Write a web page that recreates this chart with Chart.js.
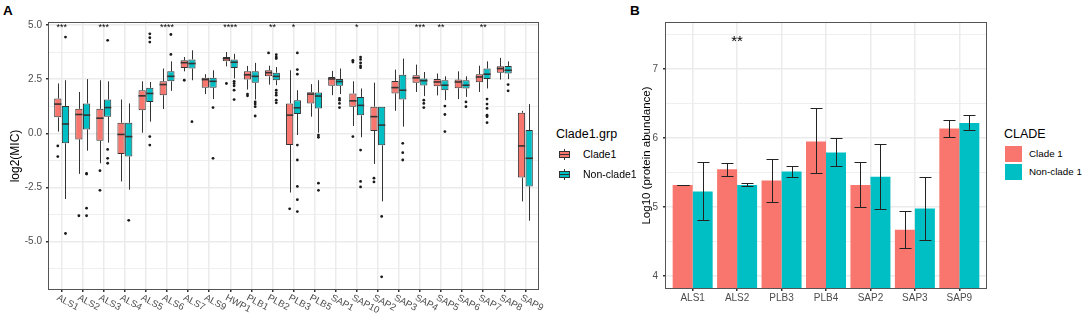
<!DOCTYPE html>
<html>
<head>
<meta charset="utf-8">
<title>MIC and protein abundance by clade</title>
<script src="https://cdn.jsdelivr.net/npm/chart.js@4.4.1/dist/chart.umd.min.js"></script>
<style>
    body { margin: 0; background: #fff; font-family: 'Liberation Sans', Arial, sans-serif; }
    #fig { position: relative; width: 1084px; height: 317px; overflow: hidden; }
    .tag { position: absolute; font-weight: bold; font-size: 13.5px; line-height: 16px; }
    .wrap { position: absolute; top: 0; height: 317px; }
    #wrapA { left: 0; width: 545px; }
    #wrapB { left: 630px; width: 360px; }
    .lg-title { position: absolute; font-size: 12.5px; line-height: 16px; color: #000; white-space: nowrap; }
    .lg-label { position: absolute; font-size: 10.5px; line-height: 17px; color: #000; white-space: nowrap; }
    .lg-label.sm { font-size: 9.8px; }
    .boxkey { position: absolute; width: 17px; height: 17px; }
    .boxkey .wh { position: absolute; left: 8px; top: 3px; width: 1px; height: 11px; background: #333; }
    .boxkey .bx { position: absolute; left: 3px; top: 5px; width: 9px; height: 5px; border: 1px solid #333; }
    .boxkey .md { position: absolute; left: 3px; top: 8px; width: 11px; height: 1px; background: #333; }
    .fillkey { position: absolute; width: 17px; height: 16px; }
</style>
</head>
<body>
<div id="fig">
    <div class="tag" style="left:3px; top:3px;">A</div>
    <div class="tag" style="left:630px; top:3px;">B</div>

    <div class="wrap" id="wrapA"><canvas id="chartA"></canvas></div>
    <div class="wrap" id="wrapB"><canvas id="chartB"></canvas></div>

    <!-- legend panel A -->
    <div class="lg-title" style="left:556px; top:126px;">Clade1.grp</div>
    <div class="boxkey" style="left:556px; top:146px;"><span class="wh"></span><span class="bx" style="background:#F8766D"></span><span class="md"></span></div>
    <div class="lg-label" style="left:583px; top:146px;">Clade1</div>
    <div class="boxkey" style="left:556px; top:166px;"><span class="wh"></span><span class="bx" style="background:#00BFC4"></span><span class="md"></span></div>
    <div class="lg-label" style="left:583px; top:166px;">Non-clade1</div>

    <!-- legend panel B -->
    <div class="lg-title" style="left:1004px; top:126px;">CLADE</div>
    <div class="fillkey" style="left:1005px; top:146px; background:#F8766D;"></div>
    <div class="lg-label sm" style="left:1029px; top:145px;">Clade 1</div>
    <div class="fillkey" style="left:1005px; top:164px; background:#00BFC4;"></div>
    <div class="lg-label sm" style="left:1029px; top:163px;">Non-clade 1</div>
</div>

<script>
// ---- Panel A: log2(MIC) boxplots ----
const categoriesA = ['ALS1', 'ALS2', 'ALS3', 'ALS4', 'ALS5', 'ALS6', 'ALS7', 'ALS9', 'HWP1', 'PLB1', 'PLB2', 'PLB3',
    'PLB5', 'SAP1', 'SAP10', 'SAP2', 'SAP3', 'SAP4', 'SAP5', 'SAP6', 'SAP7', 'SAP8', 'SAP9'];

const clade1Low    = [0.08, -1.87, -1.38, -2.22, 0.03, 1.12, 2.86, 1.81, 3.09, 2.02, 2.25, -2.73, 0.77, 1.76, 0.34, -1.41, 1.04, 1.91, 1.75, 1.58, 1.91, 2.48, -3.14];
const clade1Q1     = [0.74, -0.28, -0.34, -0.95, 1.07, 1.76, 3.02, 2.10, 3.32, 2.48, 2.63, -0.54, 1.38, 2.19, 1.23, 0.11, 1.84, 2.33, 2.17, 2.08, 2.36, 2.80, -2.04];
const clade1Median = [1.35, 0.87, 0.70, -0.05, 1.73, 2.25, 3.26, 2.48, 3.45, 2.70, 2.80, 0.84, 1.81, 2.51, 1.50, 0.77, 2.11, 2.56, 2.37, 2.37, 2.60, 2.99, -0.58];
const clade1Q3     = [1.61, 1.13, 1.13, 0.49, 1.99, 2.40, 3.37, 2.56, 3.52, 2.86, 2.91, 1.38, 1.90, 2.60, 1.84, 1.23, 2.42, 2.68, 2.51, 2.48, 2.73, 3.09, 0.95];
const clade1High   = [2.30, 1.91, 2.45, 1.56, 2.40, 2.99, 3.52, 2.73, 3.75, 3.11, 3.12, 2.91, 2.27, 2.88, 2.40, 2.34, 2.94, 3.17, 2.76, 2.86, 3.12, 3.48, 1.04];
const clade1Outliers = [[-0.58, -1.07], [-3.80], [-1.72, -2.63], [], [], [], [2.45], [], [2.30], [1.81, 1.73], [3.71],
    [-3.48], [], [], [3.37, 3.29, -0.15], [-2.07, -2.24], [], [], [], [], [], [], []];

const nonClade1Low    = [-3.03, -0.80, -0.43, -2.60, 0.54, 1.96, 2.45, 1.58, 2.53, 1.56, 2.22, -0.08, 0.03, 1.81, -0.18, -3.14, 0.31, 1.72, 1.53, 1.68, 2.07, 2.50, -4.03];
const nonClade1Q1     = [-0.46, 0.18, 0.77, -1.07, 1.45, 2.40, 2.99, 2.10, 3.02, 2.33, 2.45, 0.89, 1.15, 2.19, 0.83, -0.55, 1.56, 2.21, 1.99, 2.07, 2.51, 2.76, -2.45];
const nonClade1Median = [0.43, 0.84, 1.19, -0.15, 1.84, 2.63, 3.22, 2.40, 3.28, 2.63, 2.63, 1.18, 1.72, 2.39, 1.29, 0.38, 1.99, 2.43, 2.22, 2.22, 2.73, 2.91, -1.15];
const nonClade1Q3     = [1.26, 1.38, 1.56, 0.49, 2.10, 2.86, 3.41, 2.56, 3.41, 2.86, 2.80, 1.53, 1.88, 2.51, 1.68, 1.23, 2.70, 2.53, 2.45, 2.45, 2.99, 3.11, 0.15];
const nonClade1High   = [2.45, 2.50, 2.40, 1.38, 2.37, 3.32, 3.83, 2.91, 3.67, 3.25, 3.06, 1.99, 2.45, 2.99, 2.07, 1.23, 3.45, 2.83, 2.63, 2.63, 3.32, 3.32, 1.35];
const nonClade1Outliers = [[4.44, -4.62], [-1.85, -1.88, -3.45, -3.80], [4.29, -0.74, -1.15, -1.38], [-4.01],
    [4.59, 4.41, 4.21, -0.15, -0.54], [4.56, 3.64], [0.54], [1.19, -1.15], [2.40, 2.30, 2.19, 1.99, 1.56],
    [1.45, 1.35, 1.23, 0.80], [3.63, 3.52, 3.45, 1.99, 1.87, 1.76, 1.53, 1.41],
    [3.71, 2.94, 2.73, -0.54, -1.23, -2.45, -3.06, -3.61], [-0.08, -0.18, -2.30, -2.63], [1.61, 1.53, 1.38, 1.19],
    [3.52, 3.41, 3.25, 3.11, 3.03, -0.77, -2.22, -2.47], [-3.83, -6.62], [-0.46, -0.89, -1.23], [1.53, 1.38, 1.19],
    [1.26, 0.87, 0.08], [1.45, 1.23], [1.58, 1.35, 1.15, 0.84, 0.77, 0.49], [2.25, 1.96], []];

const starsA = ['***', '', '***', '', '', '****', '', '', '****', '', '**', '*', '', '', '*', '', '', '***', '**', '', '**', '', ''];
const starYA = 4.95;
const yTicksA = [-5, -2.5, 0, 2.5, 5];
const yRangeA = [-7.18, 5.09];

// ---- Panel B: protein abundance bars ----
const categoriesB = ['ALS1', 'ALS2', 'PLB3', 'PLB4', 'SAP2', 'SAP3', 'SAP9'];
const clade1Mean  = [5.32, 5.55, 5.385, 5.95, 5.32, 4.67, 6.14];
const clade1Upper = [5.325, 5.645, 5.70, 6.43, 5.655, 4.945, 6.27];
const clade1Lower = [5.315, 5.45, 5.07, 5.49, 5.00, 4.405, 6.02];
const nonClade1Mean  = [5.225, 5.32, 5.515, 5.79, 5.44, 4.98, 6.22];
const nonClade1Upper = [5.65, 5.355, 5.60, 6.00, 5.92, 5.44, 6.33];
const nonClade1Lower = [4.81, 5.30, 5.43, 5.60, 4.975, 4.525, 6.12];
const starsB = ['', '**', '', '', '', '', ''];
const starYB = 7.46;
const yTicksB = [4, 5, 6, 7];
const yRangeB = [3.826, 7.67];

const RED = '#F8766D';
const CYAN = '#00BFC4';
const GRID = '#EBEBEB';
const TICK_TEXT = '#4D4D4D';

Chart.defaults.font.family = "'Liberation Sans', Arial, sans-serif";
Chart.defaults.animation = false;

// major ticks plus ggplot style minor lines half way between
function withMinor(major, range) {
    const step = major[1] - major[0];
    const out = [];
    for (let v = major[0] - step; v <= range[1] + 1e-9; v += step / 2) {
        if (v >= range[0]) out.push(+v.toFixed(4));
    }
    return out;
}
const isMajor = (v, major) => major.some(m => Math.abs(m - v) < 1e-6);

// panel border drawn over the data, like ggplot theme_bw
const panelBorder = {
    id: 'panelBorder',
    afterDraw(chart) {
        const { left, top, right, bottom } = chart.chartArea;
        const ctx = chart.ctx;
        ctx.save();
        ctx.strokeStyle = '#555';
        ctx.lineWidth = 1;
        ctx.strokeRect(Math.round(left) - 0.5, Math.round(top) - 0.5, Math.round(right - left) + 1, Math.round(bottom - top) + 1);
        ctx.restore();
    }
};

// whiskers, medians, outliers and significance stars for panel A
const boxExtras = {
    id: 'boxExtras',
    afterDatasetsDraw(chart) {
        const ctx = chart.ctx;
        const ys = chart.scales.y;
        ctx.save();
        chart.data.datasets.forEach((ds, di) => {
            const meta = chart.getDatasetMeta(di);
            meta.data.forEach((bar, i) => {
                const x = Math.round(bar.x) + 0.5;
                const hw = bar.width / 2;
                ctx.strokeStyle = '#333';
                ctx.lineWidth = 1;
                ctx.beginPath();
                ctx.moveTo(x, ys.getPixelForValue(ds.q3[i]));
                ctx.lineTo(x, ys.getPixelForValue(ds.high[i]));
                ctx.moveTo(x, ys.getPixelForValue(ds.q1[i]));
                ctx.lineTo(x, ys.getPixelForValue(ds.low[i]));
                ctx.stroke();
                ctx.lineWidth = 1.6;
                ctx.beginPath();
                const ym = ys.getPixelForValue(ds.median[i]);
                ctx.moveTo(bar.x - hw, ym);
                ctx.lineTo(bar.x + hw, ym);
                ctx.stroke();
                ctx.fillStyle = '#1a1a1a';
                ds.outliers[i].forEach(v => {
                    ctx.beginPath();
                    ctx.arc(bar.x, ys.getPixelForValue(v), 1.4, 0, Math.PI * 2);
                    ctx.fill();
                });
            });
        });
        const xs = chart.scales.x;
        ctx.fillStyle = '#000';
        ctx.font = "9px 'Liberation Sans', Arial, sans-serif";
        ctx.textAlign = 'center';
        ctx.textBaseline = 'middle';
        starsA.forEach((s, i) => {
            if (s) ctx.fillText(s, xs.getPixelForValue(i), ys.getPixelForValue(starYA) + 1.5);
        });
        ctx.restore();
    },
    afterDraw(chart) {
        // slanted category labels, starting at the tick and running down to the right
        const ctx = chart.ctx;
        const xs = chart.scales.x;
        ctx.save();
        ctx.fillStyle = TICK_TEXT;
        ctx.font = "9.5px 'Liberation Sans', Arial, sans-serif";
        ctx.textAlign = 'left';
        ctx.textBaseline = 'top';
        categoriesA.forEach((c, i) => {
            ctx.save();
            ctx.translate(xs.getPixelForValue(i) - 2, chart.chartArea.bottom + 4);
            ctx.rotate(28 * Math.PI / 180);
            ctx.fillText(c, 0, 0);
            ctx.restore();
        });
        ctx.restore();
    }
};

// error bars and stars for panel B
const errorBars = {
    id: 'errorBars',
    afterDatasetsDraw(chart) {
        const ctx = chart.ctx;
        const ys = chart.scales.y;
        ctx.save();
        ctx.strokeStyle = '#222';
        ctx.lineWidth = 1;
        chart.data.datasets.forEach((ds, di) => {
            chart.getDatasetMeta(di).data.forEach((bar, i) => {
                const x = Math.round(bar.x) + 0.5;
                const cap = bar.width * 0.3;
                const yu = Math.round(ys.getPixelForValue(ds.upper[i])) + 0.5;
                const yl = Math.round(ys.getPixelForValue(ds.lower[i])) + 0.5;
                ctx.beginPath();
                ctx.moveTo(x, yu); ctx.lineTo(x, yl);
                ctx.moveTo(x - cap, yu); ctx.lineTo(x + cap, yu);
                ctx.moveTo(x - cap, yl); ctx.lineTo(x + cap, yl);
                ctx.stroke();
            });
        });
        const xs = chart.scales.x;
        ctx.fillStyle = '#000';
        ctx.font = "15px 'Liberation Sans', Arial, sans-serif";
        ctx.textAlign = 'center';
        ctx.textBaseline = 'middle';
        starsB.forEach((s, i) => {
            if (s) ctx.fillText(s, xs.getPixelForValue(i), ys.getPixelForValue(starYB) + 4);
        });
        ctx.restore();
    }
};

function catTicks(list) {
    return scale => { scale.ticks = list.map((_, i) => ({ value: i })); };
}

// ---- build chart A ----
const yAllA = withMinor(yTicksA, yRangeA);
new Chart(document.getElementById('chartA'), {
    type: 'bar',
    data: {
        datasets: [{
            label: 'Clade1',
            data: categoriesA.map((c, i) => ({ x: i, y: [clade1Q1[i], clade1Q3[i]] })),
            low: clade1Low, q1: clade1Q1, median: clade1Median, q3: clade1Q3, high: clade1High, outliers: clade1Outliers,
            backgroundColor: RED, borderColor: '#333', borderWidth: 1, borderSkipped: false
        }, {
            label: 'Non-clade1',
            data: categoriesA.map((c, i) => ({ x: i, y: [nonClade1Q1[i], nonClade1Q3[i]] })),
            low: nonClade1Low, q1: nonClade1Q1, median: nonClade1Median, q3: nonClade1Q3, high: nonClade1High, outliers: nonClade1Outliers,
            backgroundColor: CYAN, borderColor: '#333', borderWidth: 1, borderSkipped: false
        }]
    },
    options: {
        responsive: true,
        maintainAspectRatio: false,
        layout: { padding: { top: 23, right: 7, left: 0, bottom: 0 } },
        categoryPercentage: 0.73,
        barPercentage: 0.94,
        plugins: { legend: { display: false }, tooltip: { enabled: false } },
        scales: {
            x: {
                type: 'linear',
                min: -0.6,
                max: categoriesA.length - 0.4,
                offset: false,
                afterBuildTicks: catTicks(categoriesA),
                afterFit: s => { s.height = 28; },
                ticks: { display: false },
                grid: { color: GRID, lineWidth: 1.5, offset: false, tickLength: 3, tickColor: '#333' },
                border: { display: false }
            },
            y: {
                min: yRangeA[0],
                max: yRangeA[1],
                afterBuildTicks: s => { s.ticks = yAllA.map(v => ({ value: v })); },
                afterFit: s => { s.width = 49; },
                ticks: {
                    color: TICK_TEXT,
                    font: { size: 10 },
                    padding: 4,
                    callback: v => isMajor(v, yTicksA) ? v.toFixed(1) : ''
                },
                grid: {
                    color: GRID,
                    lineWidth: c => isMajor(c.tick.value, yTicksA) ? 1.5 : 0.8,
                    tickLength: 3,
                    tickColor: c => isMajor(c.tick.value, yTicksA) ? '#333' : 'rgba(0,0,0,0)'
                },
                border: { display: false },
                title: { display: true, text: 'log2(MIC)', color: '#000', font: { size: 12 }, padding: { top: 8, bottom: 0 } }
            }
        }
    },
    plugins: [boxExtras, panelBorder]
});

// ---- build chart B ----
const yAllB = withMinor(yTicksB, yRangeB);
new Chart(document.getElementById('chartB'), {
    type: 'bar',
    data: {
        datasets: [{
            label: 'Clade 1',
            data: categoriesB.map((c, i) => ({ x: i, y: clade1Mean[i] })),
            upper: clade1Upper, lower: clade1Lower,
            backgroundColor: RED, base: yRangeB[0]
        }, {
            label: 'Non-clade 1',
            data: categoriesB.map((c, i) => ({ x: i, y: nonClade1Mean[i] })),
            upper: nonClade1Upper, lower: nonClade1Lower,
            backgroundColor: CYAN, base: yRangeB[0]
        }]
    },
    options: {
        responsive: true,
        maintainAspectRatio: false,
        layout: { padding: { top: 23, right: 4, left: 0, bottom: 0 } },
        categoryPercentage: 0.9,
        barPercentage: 1.0,
        plugins: { legend: { display: false }, tooltip: { enabled: false } },
        scales: {
            x: {
                type: 'linear',
                min: -0.6,
                max: categoriesB.length - 0.4,
                offset: false,
                afterBuildTicks: catTicks(categoriesB),
                afterFit: s => { s.height = 29; },
                ticks: {
                    color: TICK_TEXT,
                    font: { size: 10 },
                    padding: 1,
                    maxRotation: 0,
                    autoSkip: false,
                    callback: v => categoriesB[v]
                },
                grid: { color: GRID, lineWidth: 1.5, offset: false, tickLength: 3, tickColor: '#333' },
                border: { display: false }
            },
            y: {
                min: yRangeB[0],
                max: yRangeB[1],
                afterBuildTicks: s => { s.ticks = yAllB.map(v => ({ value: v })); },
                afterFit: s => { s.width = 36; },
                ticks: {
                    color: TICK_TEXT,
                    font: { size: 10 },
                    padding: 5,
                    callback: v => isMajor(v, yTicksB) ? String(v) : ''
                },
                grid: {
                    color: GRID,
                    lineWidth: c => isMajor(c.tick.value, yTicksB) ? 1.5 : 0.8,
                    tickLength: 3,
                    tickColor: c => isMajor(c.tick.value, yTicksB) ? '#333' : 'rgba(0,0,0,0)'
                },
                border: { display: false },
                title: { display: true, text: 'Log10 (protein abundance)', color: '#000', font: { size: 11.5 }, padding: { top: 10, bottom: 0 } }
            }
        }
    },
    plugins: [errorBars, panelBorder]
});
</script>
</body>
</html>
